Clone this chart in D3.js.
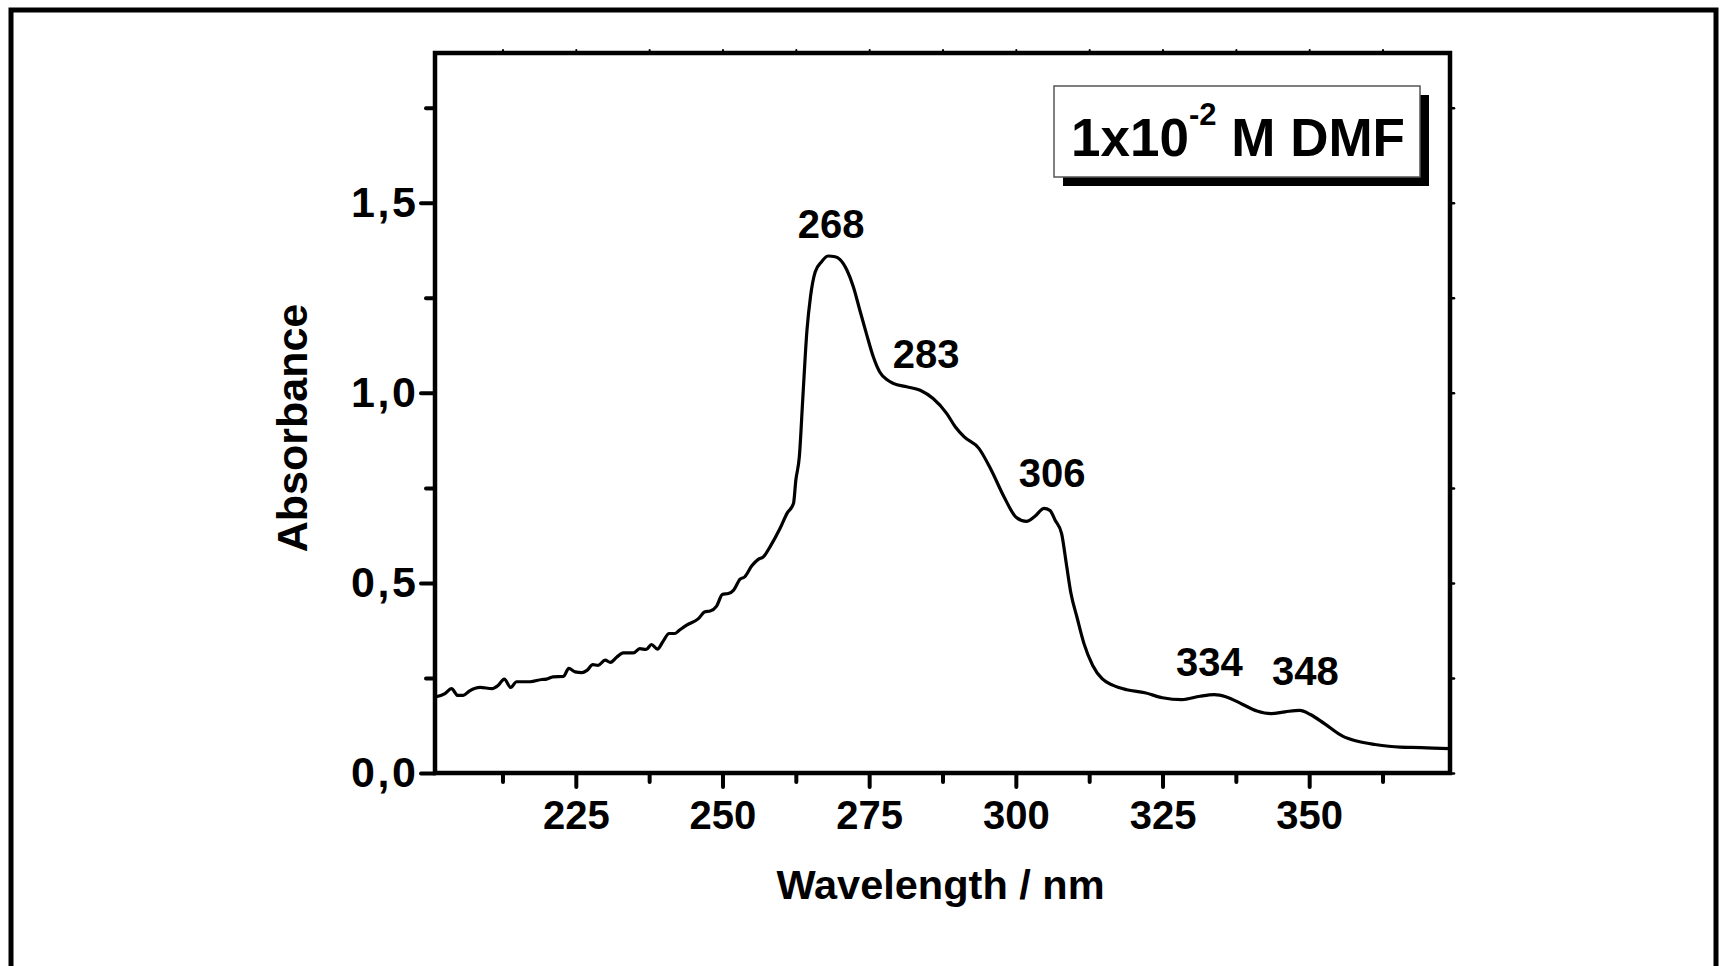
<!DOCTYPE html>
<html>
<head>
<meta charset="utf-8">
<script src="https://cdn.jsdelivr.net/npm/d3@7"></script>
<style>
    body { margin: 0; background: #fff; }
    svg { display: block; }
    text { font-family: "Liberation Sans", Arial, sans-serif; font-weight: bold; fill: #000; }
</style>
</head>
<body>
<svg id="chart" width="1726" height="966"></svg>
<script>
// spectrum
const wavelength = [
    201, 202.7, 203.8, 204.9, 205.8, 206.9, 208.7, 210.7, 211.8, 212.8,
    213.9, 214.9, 217.2, 219.2, 220.0, 221.1, 222.9, 223.8, 224.9, 226.0,
    226.9, 227.9, 228.8, 230.0, 230.9, 232.0, 233.1, 234.8, 235.9, 237.0,
    237.9, 238.9, 239.9, 240.9, 241.9, 242.7, 243.9, 245.9, 247.0, 247.9,
    249.0, 250.0, 251.0, 251.9, 253.0, 253.8, 255.0, 256.1, 257.0, 258.1,
    259.8, 261.0, 262.1, 262.5, 263.1, 263.7, 264.4, 265.0, 265.8, 266.9,
    268.0, 269.2, 270.0, 271.2, 272.3, 273.4, 274.6, 275.7, 276.8, 278.0,
    279.1, 281.4, 283.7, 285.9, 288.2, 289.7, 291.2, 293.7, 295.8, 298.0,
    300.1, 301.8, 303.3, 304.8, 305.8, 306.7, 307.8, 308.6, 309.4, 310.4,
    311.6, 313.1, 314.7, 316.5, 318.9, 322.0, 325.0, 328.3, 331.4, 333.8,
    335.9, 338.6, 341.1, 343.5, 345.9, 348.4, 350.2, 352.6, 355.7, 358.1,
    361.2, 365.5, 369.1, 374
];
const absorbance = [
    0.200, 0.209, 0.222, 0.204, 0.204, 0.216, 0.225, 0.222, 0.231, 0.247,
    0.225, 0.240, 0.240, 0.246, 0.247, 0.253, 0.254, 0.275, 0.266, 0.264,
    0.270, 0.285, 0.283, 0.297, 0.291, 0.305, 0.316, 0.316, 0.327, 0.325,
    0.338, 0.326, 0.347, 0.367, 0.367, 0.376, 0.389, 0.406, 0.424, 0.426,
    0.439, 0.470, 0.472, 0.481, 0.510, 0.516, 0.545, 0.562, 0.569, 0.595,
    0.643, 0.683, 0.709, 0.770, 0.832, 0.989, 1.165, 1.253, 1.318, 1.345,
    1.360, 1.358, 1.351, 1.323, 1.279, 1.218, 1.152, 1.095, 1.055, 1.035,
    1.025, 1.016, 1.007, 0.985, 0.946, 0.910, 0.884, 0.854, 0.797, 0.726,
    0.672, 0.662, 0.676, 0.696, 0.691, 0.665, 0.630, 0.551, 0.472, 0.411,
    0.341, 0.283, 0.248, 0.231, 0.219, 0.211, 0.198, 0.193, 0.202, 0.206,
    0.200, 0.181, 0.163, 0.156, 0.161, 0.165, 0.154, 0.130, 0.097, 0.084,
    0.075, 0.068, 0.067, 0.064
];

const peakLabels = [268, 283, 306, 334, 348];

const xMajorTicks = [225, 250, 275, 300, 325, 350];
const xMinorTicks = [212.5, 237.5, 262.5, 287.5, 312.5, 337.5, 362.5];
const yMajorTicks = [0, 0.5, 1.0, 1.5];
const yMinorTicks = [0.25, 0.75, 1.25, 1.75];

const xDomain = [201, 374];
const yDomain = [0, 1.894];

const svg = d3.select('#chart');

const plot = { left: 435, right: 1450, top: 53, bottom: 773 };

const x = d3.scaleLinear().domain(xDomain).range([plot.left, plot.right]);
const y = d3.scaleLinear().domain(yDomain).range([plot.bottom, plot.top]);

// outer frame (open at the bottom)
svg.append('path')
    .attr('d', 'M11,966 V10 H1716 V966')
    .attr('fill', 'none')
    .attr('stroke', '#000')
    .attr('stroke-width', 5);

// spectrum
const line = d3.line()
    .x((d, i) => x(wavelength[i]))
    .y(d => y(d))
    .curve(d3.curveMonotoneX);

svg.append('path')
    .datum(absorbance)
    .attr('d', line)
    .attr('fill', 'none')
    .attr('stroke', '#000')
    .attr('stroke-width', 3.2)
    .attr('stroke-linejoin', 'round');

// axes
function drawAxis(axis, transform, tickWidth) {
    const g = svg.append('g')
        .attr('transform', transform)
        .call(axis);
    g.select('.domain').remove();
    g.selectAll('.tick line').attr('stroke-width', tickWidth).attr('stroke-linecap', 'round');
    return g;
}

function styleLabels(g, size) {
    g.selectAll('text')
        .attr('font-size', size)
        .attr('font-family', '"Liberation Sans", Arial, sans-serif')
        .attr('font-weight', 'bold')
        .attr('fill', '#000');
}

// bottom
const xAxis = drawAxis(
    d3.axisBottom(x).tickValues(xMajorTicks).tickSize(14).tickPadding(14),
    `translate(0,${plot.bottom})`, 4);
styleLabels(xAxis, 40);

drawAxis(d3.axisBottom(x).tickValues(xMinorTicks).tickSize(9).tickFormat(''),
    `translate(0,${plot.bottom})`, 4);

// top
drawAxis(d3.axisTop(x).tickValues(xMajorTicks.concat(xMinorTicks)).tickSize(3).tickFormat(''),
    `translate(0,${plot.top})`, 2);

// left
const fmt = d => d3.format('.1f')(d).replace('.', ',');
const yAxis = drawAxis(
    d3.axisLeft(y).tickValues(yMajorTicks).tickSize(14).tickPadding(5).tickFormat(fmt),
    `translate(${plot.left},0)`, 4);
styleLabels(yAxis, 43);
yAxis.selectAll('text')
    .attr('textLength', 65)
    .attr('lengthAdjust', 'spacing');

drawAxis(d3.axisLeft(y).tickValues(yMinorTicks).tickSize(9).tickFormat(''),
    `translate(${plot.left},0)`, 4);

// right
drawAxis(d3.axisRight(y).tickValues(yMajorTicks.concat(yMinorTicks)).tickSize(4).tickFormat(''),
    `translate(${plot.right},0)`, 2.5);

// frame of the plot
svg.append('rect')
    .attr('x', plot.left)
    .attr('y', plot.top)
    .attr('width', plot.right - plot.left)
    .attr('height', plot.bottom - plot.top)
    .attr('fill', 'none')
    .attr('stroke', '#000')
    .attr('stroke-width', 4.5);

// axis titles
svg.append('text')
    .attr('x', (plot.left + plot.right) / 2 - 2)
    .attr('y', 899)
    .attr('text-anchor', 'middle')
    .attr('font-size', 41.5)
    .text('Wavelength / nm');

svg.append('text')
    .attr('transform', `translate(307,${(plot.top + plot.bottom) / 2 + 15}) rotate(-90)`)
    .attr('text-anchor', 'middle')
    .attr('font-size', 43)
    .text('Absorbance');

// peak labels, nudged a little off the curve as in the figure
const nudge = { 268: [1, 3], 283: [8, 0], 306: [-1, -5], 334: [-8, 2], 348: [6, -5] };
const interp = d3.scaleLinear().domain(wavelength).range(absorbance);
svg.append('g')
    .selectAll('text')
    .data(peakLabels)
    .join('text')
    .attr('x', d => x(d) + 2 + nudge[d][0])
    .attr('y', d => y(interp(d)) - 21 + nudge[d][1])
    .attr('text-anchor', 'middle')
    .attr('font-size', 40)
    .text(d => d);

// legend box with shadow
const legend = svg.append('g');
legend.append('rect')
    .attr('x', 1063).attr('y', 95)
    .attr('width', 366).attr('height', 91)
    .attr('fill', '#000');
legend.append('rect')
    .attr('x', 1054).attr('y', 86)
    .attr('width', 366).attr('height', 91)
    .attr('fill', '#fff')
    .attr('stroke', '#555')
    .attr('stroke-width', 1.5);

const legendText = legend.append('text')
    .attr('x', 1238)
    .attr('y', 156)
    .attr('text-anchor', 'middle')
    .attr('font-size', 53);
legendText.append('tspan').text('1x10');
legendText.append('tspan').attr('dy', -31).attr('font-size', 31).text('-2');
legendText.append('tspan').attr('dy', 31).text(' M DMF');
</script>
</body>
</html>
